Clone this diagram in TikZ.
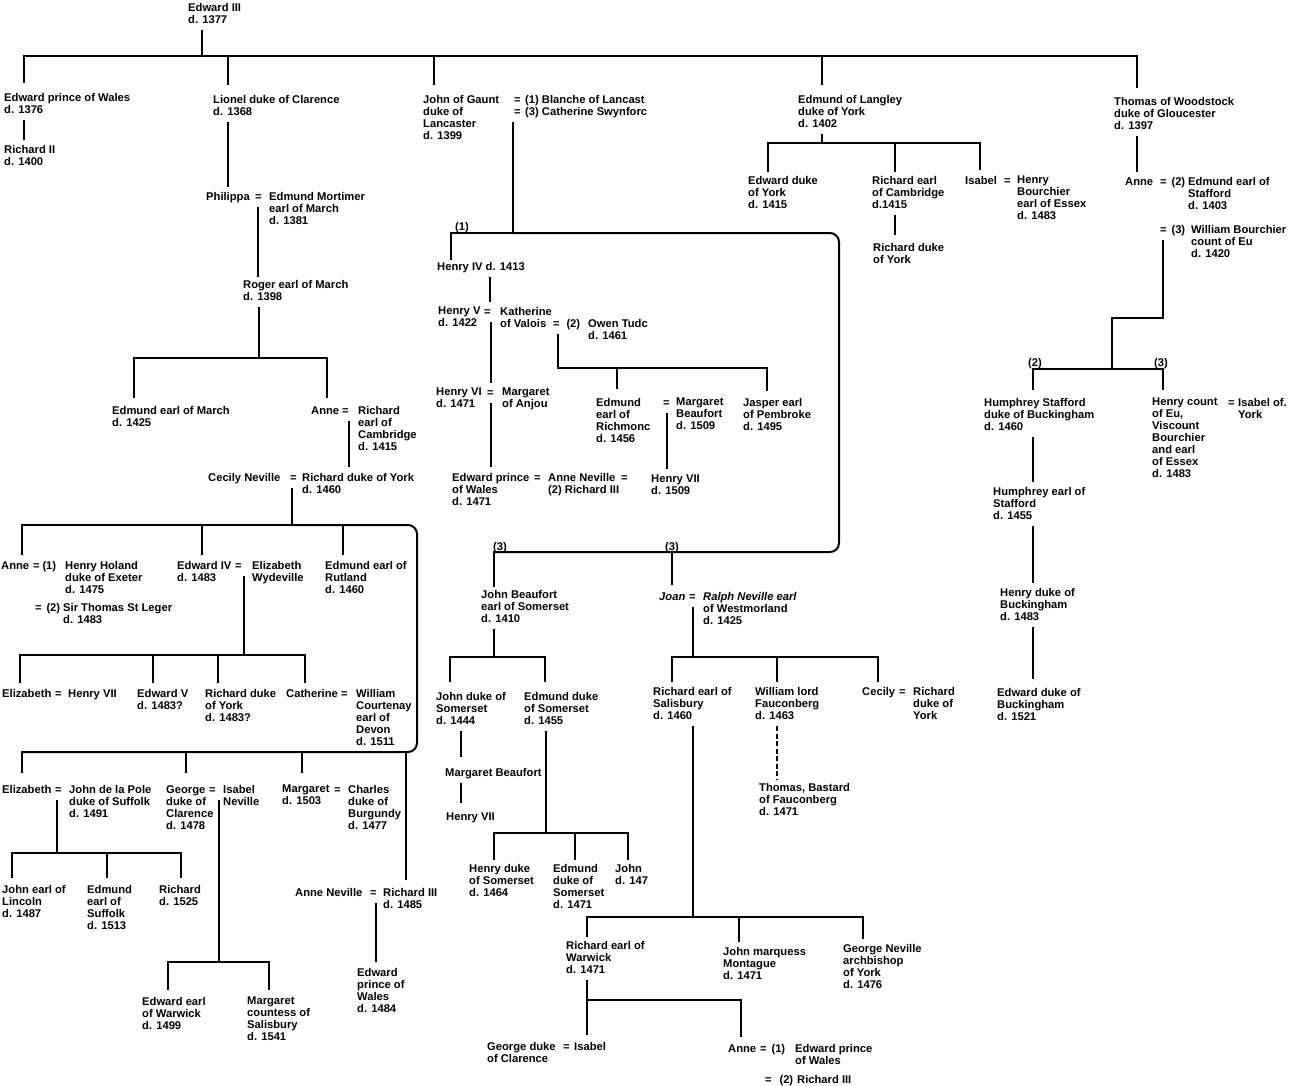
\documentclass[tikz,border=0pt]{standalone}
\usepackage{fontspec}
\usepackage{tikz}

\newfontfamily\genfam{Liberation Sans}
\newcommand{\genfont}{\genfam\bfseries\fontsize{11.2}{12}\selectfont}

\tikzset{
  pers/.style={anchor=north west, inner sep=0pt, align=left, font=\genfont, execute at begin node=\strut},
  kin/.style={line width=2pt},
  desc/.style={kin, shorten <=3pt},
  bastard/.style={kin, dash pattern=on 5pt off 2.5pt}
}

\begin{document}
\begin{tikzpicture}[x=1pt,y=1pt,yscale=-1,xscale=1]
\useasboundingbox (0,0) rectangle (1290,1085);

% Text Node
\draw (188,3) node [pers] (e3) {Edward III\\d. 1377};
% Text Node
\draw (4,93) node [pers] (epw) {Edward prince of Wales\\d. 1376};
% Text Node
\draw (4,145) node [pers] (r2) {Richard II\\d. 1400};
% Text Node
\draw (213,95) node [pers] (lio) {Lionel duke of Clarence\\d. 1368};
% Text Node
\draw (206,192) node [pers] (phil) {Philippa};
% Text Node
\draw (255,192) node [pers] (eqph) {=};
% Text Node
\draw (269,192) node [pers] (emort) {Edmund Mortimer\\earl of March\\d. 1381};
% Text Node
\draw (243,280) node [pers] (rog) {Roger earl of March\\d. 1398};
% Text Node
\draw (112,406) node [pers] (eom) {Edmund earl of March\\d. 1425};
% Text Node
\draw (311,406) node [pers] (anm) {Anne};
% Text Node
\draw (342,406) node [pers] (eqan) {=};
% Text Node
\draw (358,406) node [pers] (rec1) {Richard\\earl of\\Cambridge\\d. 1415};
% Text Node
\draw (208,473) node [pers] (cecn) {Cecily Neville};
% Text Node
\draw (290,473) node [pers] (eqcn) {=};
% Text Node
\draw (302,473) node [pers] (rdy) {Richard duke of York\\d. 1460};
% Text Node
\draw (1,561) node [pers] (any) {Anne};
% Text Node
\draw (33,561) node [pers] (eqay1) {=};
% Text Node
\draw (65,561) node [pers] (hhol) {\llap{(1)\hspace{9pt}}Henry Holand\\duke of Exeter\\d. 1475};
% Text Node
\draw (35,603) node [pers] (eqay2) {=};
% Text Node
\draw (63,603) node [pers] (tstl) {\llap{(2)\hspace{3pt}}Sir Thomas St Leger\\d. 1483};
% Text Node
\draw (177,561) node [pers] (e4) {Edward IV\\d. 1483};
% Text Node
\draw (235,561) node [pers] (eqe4) {=};
% Text Node
\draw (252,561) node [pers] (ewyd) {Elizabeth\\Wydeville};
% Text Node
\draw (325,561) node [pers] (erut) {Edmund earl of\\Rutland\\d. 1460};
% Text Node
\draw (2,689) node [pers] (ely) {Elizabeth};
% Text Node
\draw (55,689) node [pers] (eqely) {=};
% Text Node
\draw (68,689) node [pers] (h7a) {Henry VII};
% Text Node
\draw (137,689) node [pers] (e5) {Edward V\\d. 1483?};
% Text Node
\draw (205,689) node [pers] (rdyb) {Richard duke\\of York\\d. 1483?};
% Text Node
\draw (286,689) node [pers] (cath) {Catherine};
% Text Node
\draw (341,689) node [pers] (eqcat) {=};
% Text Node
\draw (356,689) node [pers] (wcou) {William\\Courtenay\\earl of\\Devon\\d. 1511};
% Text Node
\draw (2,785) node [pers] (els) {Elizabeth};
% Text Node
\draw (55,785) node [pers] (eqels) {=};
% Text Node
\draw (69,785) node [pers] (jdlp) {John de la Pole\\duke of Suffolk\\d. 1491};
% Text Node
\draw (166,785) node [pers] (geoc) {George\\duke of\\Clarence\\d. 1478};
% Text Node
\draw (209,785) node [pers] (eqgeo) {=};
% Text Node
\draw (223,785) node [pers] (isnev) {Isabel\\Neville};
% Text Node
\draw (282,785) node [pers] (marg) {Margaret\\d. 1503};
% Text Node
\draw (334,785) node [pers] (eqmar) {=};
% Text Node
\draw (348,785) node [pers] (chb) {Charles\\duke of\\Burgundy\\d. 1477};
% Text Node
\draw (2,885) node [pers] (jlin) {John earl of\\Lincoln\\d. 1487};
% Text Node
\draw (87,885) node [pers] (esuf) {Edmund\\earl of\\Suffolk\\d. 1513};
% Text Node
\draw (159,885) node [pers] (rpole) {Richard\\d. 1525};
% Text Node
\draw (142,997) node [pers] (ewar) {Edward earl\\of Warwick\\d. 1499};
% Text Node
\draw (247,997) node [pers] (mcs) {Margaret\\countess of\\Salisbury\\d. 1541};
% Text Node
\draw (295,888) node [pers] (anev) {Anne Neville};
% Text Node
\draw (370,888) node [pers] (eqanv) {=};
% Text Node
\draw (383,888) node [pers] (r3a) {Richard III\\d. 1485};
% Text Node
\draw (357,968) node [pers] (epwd) {Edward\\prince of\\Wales\\d. 1484};
% Text Node
\draw (423,95) node [pers] (jog) {John of Gaunt\\duke of\\Lancaster\\d. 1399};
% Text Node
\draw (514,95) node [pers] (eqjg1) {=};
% Text Node
\draw (525,95) node [pers] (blan) {(1) Blanche of Lancast};
% Text Node
\draw (514,107) node [pers] (eqjg3) {=};
% Text Node
\draw (525,107) node [pers] (cswy) {(3) Catherine Swynforc};
% Text Node
\draw (455,222) node [pers] (o1) {(1)};
% Text Node
\draw (437,262) node [pers] (h4) {Henry IV d. 1413};
% Text Node
\draw (438,307) node [pers] (h5) {Henry V\\d. 1422};
% Text Node
\draw (484,307) node [pers] (eqh5) {=};
% Text Node
\draw (500,307) node [pers] (kval) {Katherine\\of Valois};
% Text Node
\draw (553,319) node [pers] (eqkv) {=};
% Text Node
\draw (588,319) node [pers] (otud) {\llap{(2)\hspace{8pt}}Owen Tudc\\d. 1461};
% Text Node
\draw (436,388) node [pers] (h6) {Henry VI\\d. 1471};
% Text Node
\draw (487,388) node [pers] (eqh6) {=};
% Text Node
\draw (502,388) node [pers] (manj) {Margaret\\of Anjou};
% Text Node
\draw (596,398) node [pers] (edri) {Edmund\\earl of\\Richmonc\\d. 1456};
% Text Node
\draw (663,398) node [pers] (eqmb) {=};
% Text Node
\draw (676,398) node [pers] (mbeau) {Margaret\\Beaufort\\d. 1509};
% Text Node
\draw (743,398) node [pers] (jasp) {Jasper earl\\of Pembroke\\d. 1495};
% Text Node
\draw (452,473) node [pers] (epwl) {Edward prince\\of Wales\\d. 1471};
% Text Node
\draw (534,473) node [pers] (eqep) {=};
% Text Node
\draw (548,473) node [pers] (anev2) {Anne Neville};
% Text Node
\draw (621,473) node [pers] (eqan2) {=};
% Text Node
\draw (548,485) node [pers] (r3b) {(2) Richard III};
% Text Node
\draw (651,475) node [pers] (h7b) {Henry VII\\d. 1509};
% Text Node
\draw (493,542) node [pers] (o3a) {(3)};
% Text Node
\draw (665,542) node [pers] (o3b) {(3)};
% Text Node
\draw (481,590) node [pers] (jbea) {John Beaufort\\earl of Somerset\\d. 1410};
% Text Node
\draw (436,692) node [pers] (jdso) {John duke of\\Somerset\\d. 1444};
% Text Node
\draw (524,692) node [pers] (edso) {Edmund duke\\of Somerset\\d. 1455};
% Text Node
\draw (445,768) node [pers] (mbf2) {Margaret Beaufort};
% Text Node
\draw (446,812) node [pers] (h7c) {Henry VII};
% Text Node
\draw (469,864) node [pers] (hdso) {Henry duke\\of Somerset\\d. 1464};
% Text Node
\draw (553,864) node [pers] (edso2) {Edmund\\duke of\\Somerset\\d. 1471};
% Text Node
\draw (615,864) node [pers] (jbf) {John\\d. 147};
% Text Node
\draw (659,592) node [pers] (joan) {\itshape Joan};
% Text Node
\draw (689,592) node [pers] (eqjoan) {=};
% Text Node
\draw (703,592) node [pers] (rnev) {\textit{Ralph Neville earl}\\of Westmorland\\d. 1425};
% Text Node
\draw (653,687) node [pers] (rsal) {Richard earl of\\Salisbury\\d. 1460};
% Text Node
\draw (755,687) node [pers] (wfau) {William lord\\Fauconberg\\d. 1463};
% Text Node
\draw (759,783) node [pers] (tfau) {Thomas, Bastard\\of Fauconberg\\d. 1471};
% Text Node
\draw (862,687) node [pers] (cecy) {Cecily};
% Text Node
\draw (899,687) node [pers] (eqcy) {=};
% Text Node
\draw (913,687) node [pers] (rdyc) {Richard\\duke of\\York};
% Text Node
\draw (566,941) node [pers] (rwar) {Richard earl of\\Warwick\\d. 1471};
% Text Node
\draw (723,947) node [pers] (jmon) {John marquess\\Montague\\d. 1471};
% Text Node
\draw (843,944) node [pers] (gnev) {George Neville\\archbishop\\of York\\d. 1476};
% Text Node
\draw (487,1042) node [pers] (gdc) {George duke\\of Clarence};
% Text Node
\draw (563,1042) node [pers] (eqgdc) {=};
% Text Node
\draw (574,1042) node [pers] (isab) {Isabel};
% Text Node
\draw (728,1044) node [pers] (annw) {Anne};
% Text Node
\draw (760,1044) node [pers] (eqaw1) {=};
% Text Node
\draw (795,1044) node [pers] (epwm) {\llap{(1)\hspace{10pt}}Edward prince\\of Wales};
% Text Node
\draw (765,1075) node [pers] (eqaw2) {=};
% Text Node
\draw (797,1075) node [pers] (r3c) {\llap{(2)\hspace{4pt}}Richard III};
% Text Node
\draw (798,95) node [pers] (eol) {Edmund of Langley\\duke of York\\d. 1402};
% Text Node
\draw (748,176) node [pers] (edy) {Edward duke\\of York\\d. 1415};
% Text Node
\draw (872,176) node [pers] (rec2) {Richard earl\\of Cambridge\\d.1415};
% Text Node
\draw (873,243) node [pers] (rdyd) {Richard duke\\of York};
% Text Node
\draw (965,176) node [pers] (isy) {Isabel};
% Text Node
\draw (1004,176) node [pers] (eqisy) {=};
% Text Node
\draw (1017,176) node [pers] (hbou) {Henry\\Bourchier\\earl of Essex\\d. 1483};
% Text Node
\draw (1114,97) node [pers] (tow) {Thomas of Woodstock\\duke of Gloucester\\d. 1397};
% Text Node
\draw (1125,177) node [pers] (annt) {Anne};
% Text Node
\draw (1160,177) node [pers] (eqat1) {=};
% Text Node
\draw (1188,177) node [pers] (esta) {\llap{(2)\hspace{3pt}}Edmund earl of\\Stafford\\d. 1403};
% Text Node
\draw (1160,225) node [pers] (eqat2) {=};
% Text Node
\draw (1191,225) node [pers] (wbou) {\llap{(3)\hspace{6pt}}William Bourchier\\count of Eu\\d. 1420};
% Text Node
\draw (1028,358) node [pers] (o2c) {(2)};
% Text Node
\draw (1154,358) node [pers] (o3c) {(3)};
% Text Node
\draw (984,398) node [pers] (hsta) {Humphrey Stafford\\duke of Buckingham\\d. 1460};
% Text Node
\draw (1152,398) node [pers] (hcou) {Henry count\\of Eu,\\Viscount\\Bourchier\\and earl\\of Essex\\d. 1483};
% Text Node
\draw (1228,398) node [pers] (eqhc) {=};
% Text Node
\draw (1238,398) node [pers] (isoy) {Isabel of.\\York};
% Text Node
\draw (993,487) node [pers] (hest) {Humphrey earl of\\Stafford\\d. 1455};
% Text Node
\draw (1000,588) node [pers] (hdbu) {Henry duke of\\Buckingham\\d. 1483};
% Text Node
\draw (997,688) node [pers] (edbu) {Edward duke of\\Buckingham\\d. 1521};

%Straight Lines - Edward III
\coordinate (fE3) at (202,56);
\coordinate (kEPW) at (24,83);
\coordinate (kLio) at (228,85);
\coordinate (kJoG) at (434,85);
\coordinate (kEoL) at (822,85);
\coordinate (kToW) at (1137,88);
\draw [desc] (fE3 |- e3.south) -- (fE3);
\draw [kin] (kEPW) |- (fE3) -| (kToW);
\draw [kin] (kLio) -- (kLio |- fE3);
\draw [kin] (kJoG) -- (kJoG |- fE3);
\draw [kin] (kEoL) -- (kEoL |- fE3);
%Straight Lines - Edward prince of Wales
\coordinate (kR2) at (24,140);
\draw [desc] (kR2 |- epw.south) -- (kR2);
%Straight Lines - Lionel
\coordinate (kPhil) at (228,187);
\draw [desc] (kPhil |- lio.south) -- (kPhil);
\coordinate (kRog) at (258,277);
\draw [desc] (kRog |- eqph.south) -- (kRog);
\coordinate (fRog) at (259,358);
\coordinate (kEoM) at (134,398);
\coordinate (kAnM) at (327,398);
\draw [desc] (fRog |- rog.south) -- (fRog);
\draw [kin] (kEoM) |- (fRog) -| (kAnM);
\coordinate (kRDY) at (349,467);
\draw [desc] (kRDY |- eqan.south) -- (kRDY);
%Straight Lines - Richard duke of York
\coordinate (fRDY) at (292,525);
\coordinate (yorkR) at (417,752);
\coordinate (yorkL) at (22,752);
\coordinate (kAnY) at (22,555);
\coordinate (kE4) at (202,555);
\coordinate (kERu) at (343,555);
\coordinate (kElS) at (22,773);
\coordinate (kGeo) at (186,773);
\coordinate (kMar) at (302,773);
\coordinate (kR3) at (406,880);
\draw [desc] (fRDY |- eqcn.south) -- (fRDY);
\draw [kin] (kAnY) |- (fRDY);
\draw [kin, rounded corners=9pt] (fRDY) -| (yorkR) -- (yorkL);
\draw [kin] (kElS) |- (kGeo |- yorkL);
\draw [kin] (kE4) -- (kE4 |- fRDY);
\draw [kin] (kERu) -- (kERu |- fRDY);
\draw [kin] (kGeo) -- (kGeo |- yorkL);
\draw [kin] (kMar) -- (kMar |- yorkL);
\draw [kin] (kR3) -- (kR3 |- yorkL);
%Straight Lines - Edward IV
\coordinate (fE4) at (244,655);
\coordinate (kElY) at (20,683);
\coordinate (kE5) at (153,683);
\coordinate (kRDYb) at (218,683);
\coordinate (kCat) at (305,683);
\draw [desc] (fE4 |- eqe4.south) -- (fE4);
\draw [kin] (kElY) |- (fE4) -| (kCat);
\draw [kin] (kE5) -- (kE5 |- fE4);
\draw [kin] (kRDYb) -- (kRDYb |- fE4);
%Straight Lines - Elizabeth and John de la Pole
\coordinate (fElS) at (57,853);
\coordinate (kJLi) at (12,878);
\coordinate (kESu) at (107,878);
\coordinate (kRPo) at (181,878);
\draw [desc] (fElS |- eqels.south) -- (fElS);
\draw [kin] (kJLi) |- (fElS) -| (kRPo);
\draw [kin] (kESu) -- (kESu |- fElS);
%Straight Lines - George and Isabel
\coordinate (fGeo) at (219,962);
\coordinate (kEWa) at (168,990);
\coordinate (kMCS) at (269,990);
\draw [desc] (fGeo |- eqgeo.south) -- (fGeo);
\draw [kin] (kEWa) |- (fGeo) -| (kMCS);
%Straight Lines - Anne Neville and Richard III
\coordinate (kEPd) at (376,962);
\draw [desc] (kEPd |- eqanv.south) -- (kEPd);
%Straight Lines - John of Gaunt
\coordinate (fJoG) at (513,233);
\coordinate (lancR) at (839,552);
\coordinate (lancL) at (494,552);
\coordinate (kH4) at (451,260);
\coordinate (kJBe) at (494,587);
\coordinate (kJoan) at (672,585);
\draw [desc] (fJoG |- eqjg3.south) -- (fJoG);
\draw [kin] (kH4) |- (fJoG);
\draw [kin, rounded corners=9pt] (fJoG) -| (lancR) -- (lancL);
\draw [kin] (kJBe) |- (kJoan |- lancL);
\draw [kin] (kJoan) -- (kJoan |- lancL);
%Straight Lines - Henry IV to Edward prince of Wales
\coordinate (kH5) at (490,302);
\draw [desc] (kH5 |- h4.south) -- (kH5);
\coordinate (kH6) at (491,383);
\draw [desc] (kH6 |- eqh5.south) -- (kH6);
\coordinate (kEPW2) at (491,467);
\draw [desc] (kEPW2 |- eqh6.south) -- (kEPW2);
%Straight Lines - Katherine and Owen
\coordinate (fKat) at (558,368);
\coordinate (kEdR) at (617,389);
\coordinate (kJas) at (767,391);
\draw [desc] (fKat |- eqkv.south) -- (fKat) -| (kJas);
\draw [kin] (kEdR) -- (kEdR |- fKat);
\coordinate (kH7b) at (667,469);
\draw [desc] (kH7b |- eqmb.south) -- (kH7b);
%Straight Lines - John Beaufort
\coordinate (fJBe) at (494,657);
\coordinate (kJDS) at (450,682);
\coordinate (kEDS) at (545,682);
\draw [desc] (fJBe |- jbea.south) -- (fJBe);
\draw [kin] (kJDS) |- (fJBe) -| (kEDS);
\coordinate (kMBf) at (461,757);
\draw [desc] (kMBf |- jdso.south) -- (kMBf);
\coordinate (kH7c) at (461,803);
\draw [desc] (kH7c |- mbf2.south) -- (kH7c);
\coordinate (fEDS) at (546,833);
\coordinate (kHDS) at (494,860);
\coordinate (kEDS2) at (575,860);
\coordinate (kJBf) at (628,860);
\draw [desc] (fEDS |- edso.south) -- (fEDS);
\draw [kin] (kHDS) |- (fEDS) -| (kJBf);
\draw [kin] (kEDS2) -- (kEDS2 |- fEDS);
%Straight Lines - Joan and Ralph Neville
\coordinate (fJoan) at (693,657);
\coordinate (kRSa) at (672,682);
\coordinate (kWFa) at (777,682);
\coordinate (kCec) at (878,682);
\draw [desc] (fJoan |- eqjoan.south) -- (fJoan);
\draw [kin] (kRSa) |- (fJoan) -| (kCec);
\draw [kin] (kWFa) -- (kWFa |- fJoan);
\coordinate (kTFa) at (777,780);
\draw [bastard, shorten <=3pt] (kTFa |- wfau.south) -- (kTFa);
%Straight Lines - Richard earl of Salisbury
\coordinate (fRSa) at (693,917);
\coordinate (kRWa) at (587,937);
\coordinate (kJMo) at (739,942);
\coordinate (kGNe) at (863,939);
\draw [desc] (fRSa |- rsal.south) -- (fRSa);
\draw [kin] (kRWa) |- (fRSa) -| (kGNe);
\draw [kin] (kJMo) -- (kJMo |- fRSa);
%Straight Lines - Richard earl of Warwick
\coordinate (fRWa) at (587,1000);
\coordinate (kGDC) at (587,1035);
\coordinate (kAnW) at (741,1037);
\draw [desc] (fRWa |- rwar.south) -- (kGDC);
\draw [kin] (fRWa) -| (kAnW);
%Straight Lines - Edmund of Langley
\coordinate (fEoL) at (822,143);
\coordinate (kEdY) at (768,172);
\coordinate (kREC) at (895,172);
\coordinate (kIsY) at (980,170);
\draw [desc] (fEoL |- eol.south) -- (fEoL);
\draw [kin] (kEdY) |- (fEoL) -| (kIsY);
\draw [kin] (kREC) -- (kREC |- fEoL);
\coordinate (kRDYd) at (895,235);
\draw [desc] (kRDYd |- rec2.south) -- (kRDYd);
%Straight Lines - Thomas of Woodstock
\coordinate (kAnT) at (1137,172);
\draw [desc] (kAnT |- tow.south) -- (kAnT);
\coordinate (tStep) at (1163,318);
\coordinate (fAnT) at (1112,369);
\coordinate (kHSt) at (1033,390);
\coordinate (kHCo) at (1163,390);
\draw [desc] (tStep |- eqat2.south) -- (tStep) -| (fAnT);
\draw [kin] (kHSt) |- (fAnT) -| (kHCo);
\coordinate (kHES) at (1033,482);
\draw [desc] (kHES |- hsta.south) -- (kHES);
\coordinate (kHDB) at (1033,583);
\draw [desc] (kHDB |- hest.south) -- (kHDB);
\coordinate (kEDB) at (1033,679);
\draw [desc] (kEDB |- hdbu.south) -- (kEDB);
\end{tikzpicture}
\end{document}
